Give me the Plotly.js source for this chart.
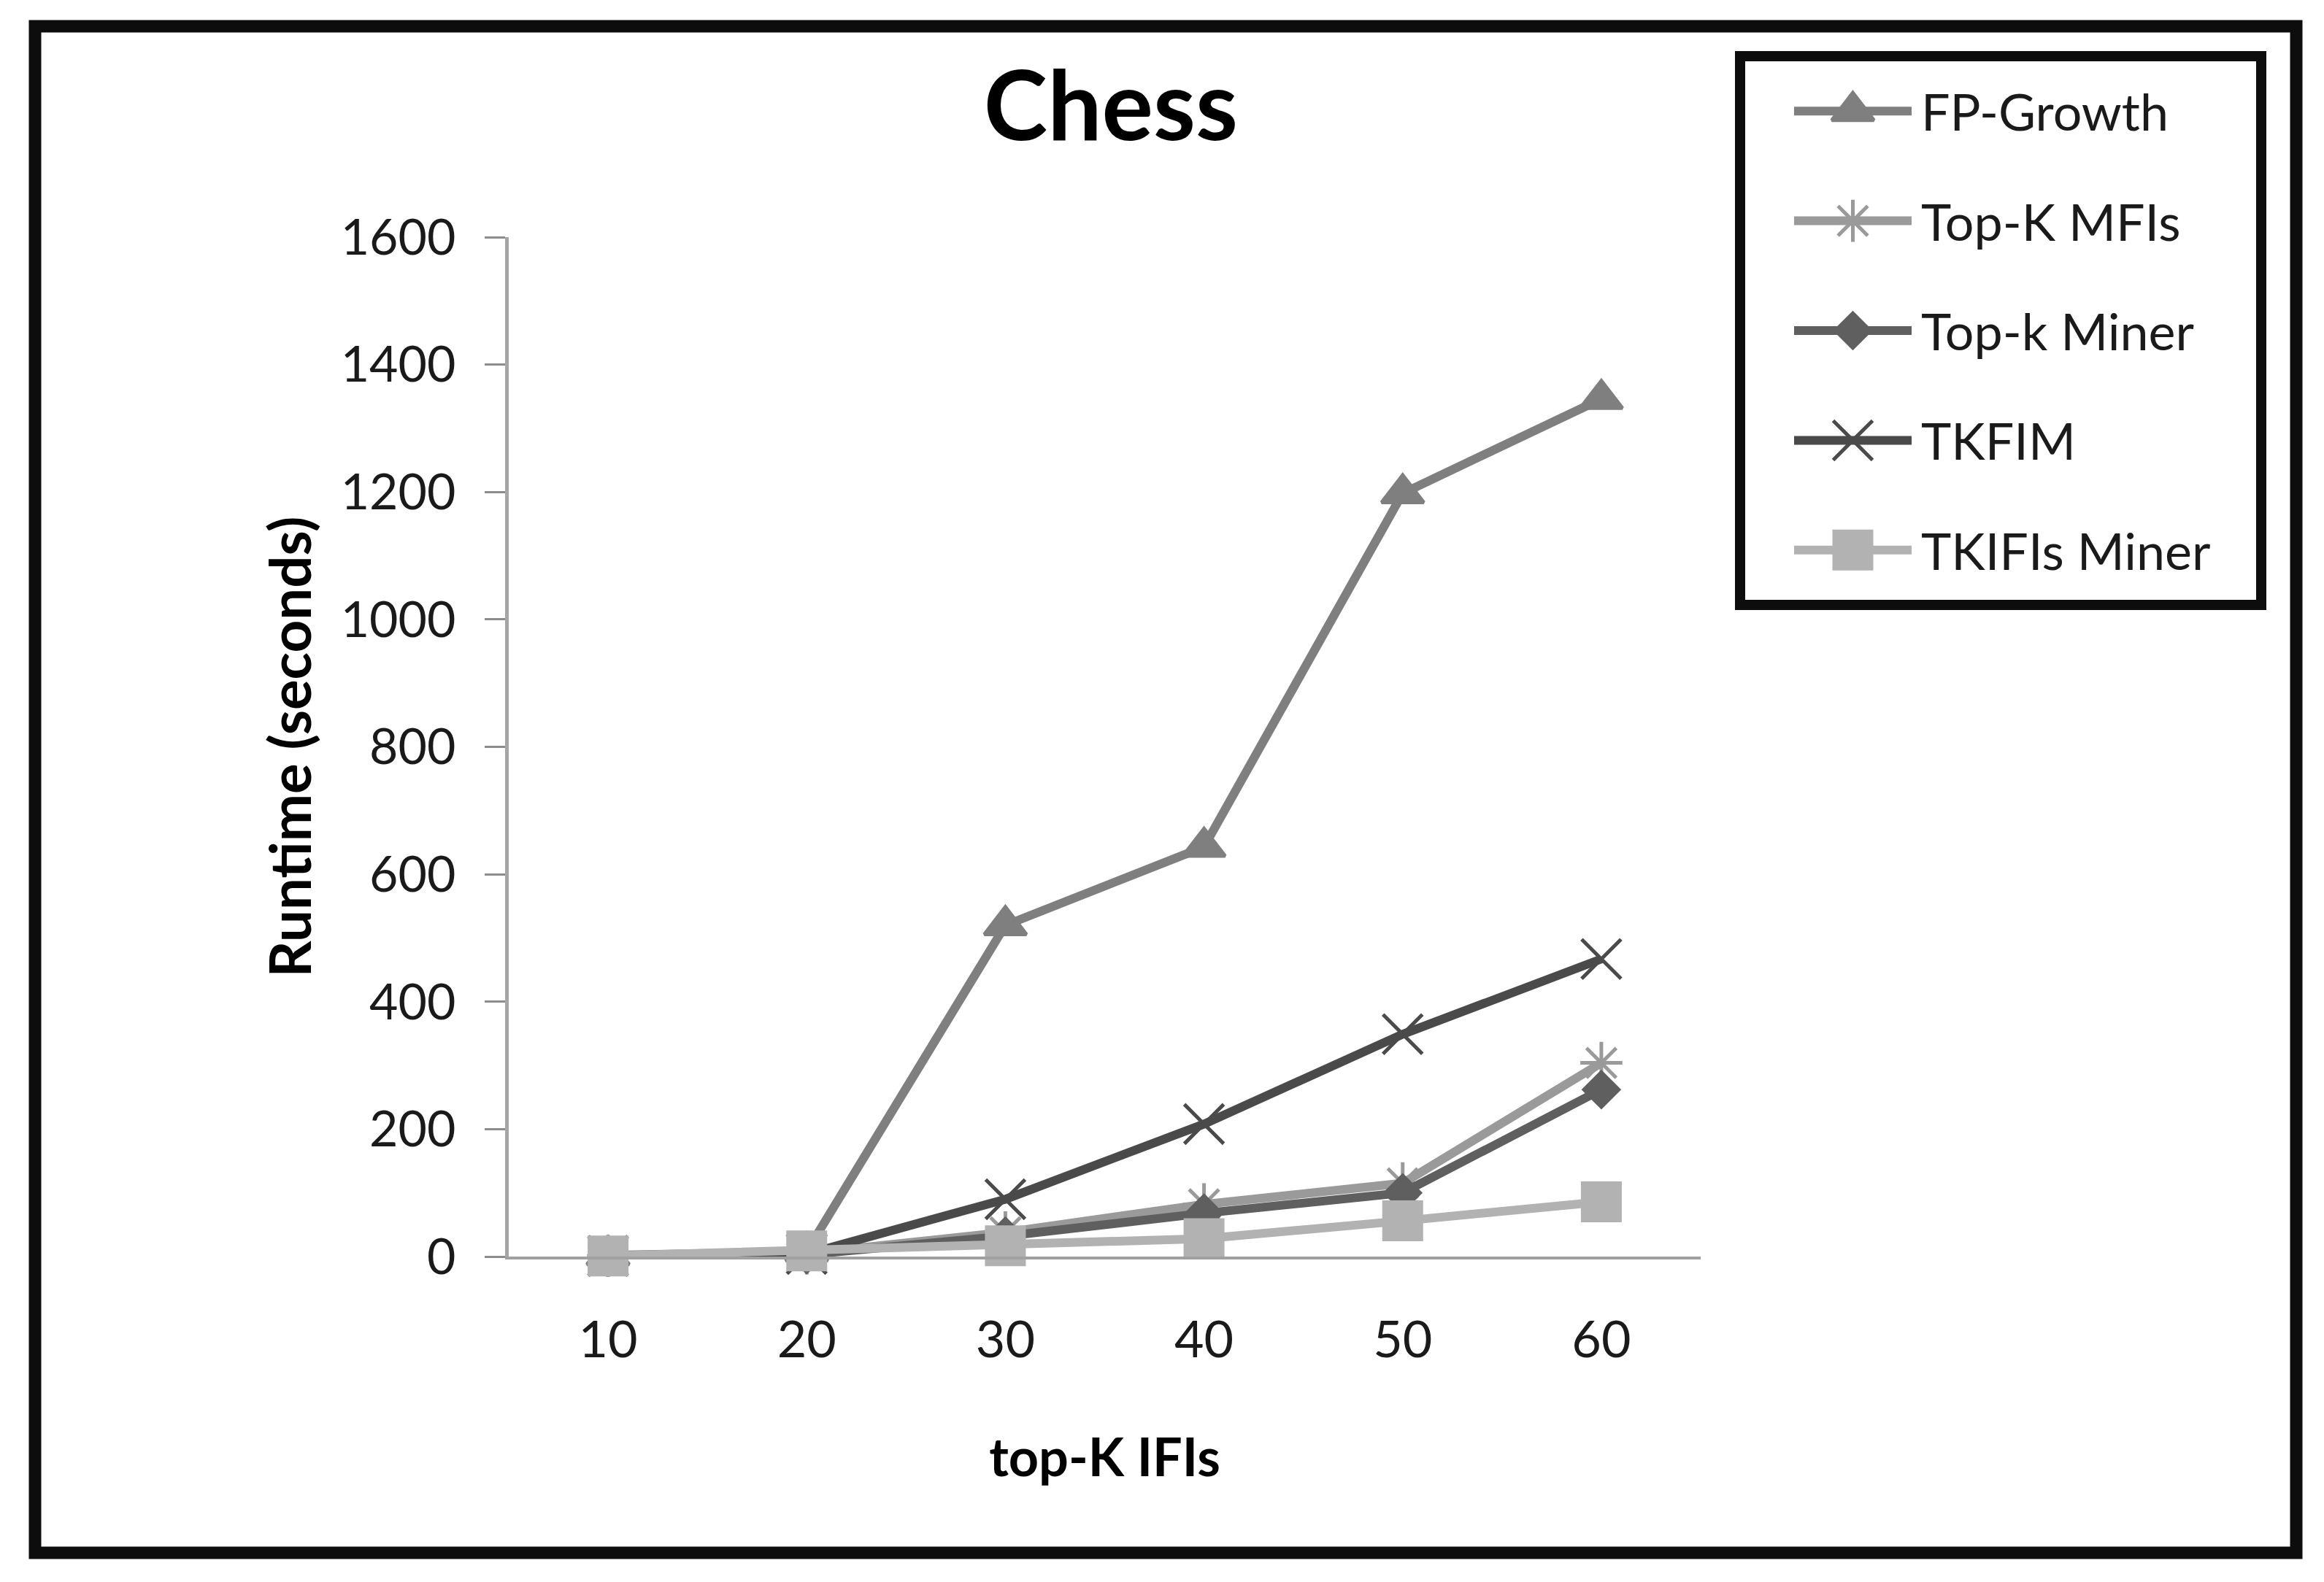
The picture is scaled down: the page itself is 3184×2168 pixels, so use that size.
<!DOCTYPE html>
<html>
<head>
<meta charset="utf-8">
<script src="https://cdn.plot.ly/plotly-3.0.1.min.js"></script>
<style>
  html, body { margin: 0; padding: 0; background: #fff; }
  #plot { width: 3184px; height: 2168px; }
</style>
</head>
<body>
<div id="plot"></div>
<script>
// values (runtime in seconds)
const xCats = ["10", "20", "30", "40", "50", "60"];
const fpGrowth  = [2, 8, 520, 643, 1198, 1346];
const topKMFIs  = [1, 5, 38, 82, 115, 304];
const topKMiner = [1, 3, 32, 68, 100, 262];
const tkfim     = [1, 4, 90, 208, 349, 467];
const tkifis    = [1, 9, 17, 28, 56, 86];

const seriesNames = ["FP-Growth", "Top-K MFIs", "Top-k Miner", "TKFIM", "TKIFIs Miner"];
const yTicks = [0, 200, 400, 600, 800, 1000, 1200, 1400, 1600];

// styling per series, same order as seriesNames
const seriesData = [fpGrowth, topKMFIs, topKMiner, tkfim, tkifis];
const colors  = ["#7f7f7f", "#9a9a9a", "#5f5f5f", "#4a4a4a", "#b2b2b2"];
const symbols = ["triangle-up", "asterisk-open", "diamond", "x-thin-open", "square"];
const sizes   = [50, 48, 42, 54, 56];
const lineW   = [5, 5, 0, 5, 0];

const W = 3184, H = 2168;
const FONT = "Lato, 'Open Sans', sans-serif";
const px = x => x / W;
const py = y => 1 - y / H;

function markerFor(i){
  return {
    symbol: symbols[i],
    size: sizes[i],
    color: colors[i],
    line: {color: colors[i], width: lineW[i]}
  };
}

const traces = seriesNames.map((name, i) => ({
  type: "scatter",
  mode: "lines+markers",
  name: name,
  x: xCats,
  y: seriesData[i],
  line: {color: colors[i], width: 12},
  marker: markerFor(i),
  cliponaxis: false,
  showlegend: false,
  hoverinfo: "x+y+name"
}));

// hand-made legend keys on a small overlay axis pair (row i = series i)
const legendKeys = seriesNames.map((name, i) => {
  const m = markerFor(i);
  m.opacity = [0, 1, 0];
  return {
    type: "scatter",
    mode: "lines+markers",
    x: [0, 0.5, 1],
    y: [i, i, i],
    xaxis: "x2",
    yaxis: "y2",
    line: {color: colors[i], width: 12},
    marker: m,
    cliponaxis: false,
    showlegend: false,
    hoverinfo: "skip"
  };
});

const legendText = seriesNames.map((name, i) => ({
  text: name,
  xref: "paper", yref: "y2",
  x: px(2630), y: i,
  xanchor: "left", yanchor: "middle",
  showarrow: false,
  font: {family: FONT, size: 70, color: "#1a1a1a"}
}));

const layout = {
  width: W,
  height: H,
  margin: {l: 0, r: 0, t: 0, b: 0},
  paper_bgcolor: "#ffffff",
  plot_bgcolor: "#ffffff",
  font: {family: FONT, color: "#1a1a1a"},
  showlegend: false,
  title: {
    text: "<b>Chess</b>",
    x: px(1522), xanchor: "center",
    y: py(146), yanchor: "middle",
    xref: "paper", yref: "paper",
    font: {family: FONT, size: 132, color: "#000"}
  },
  xaxis: {
    domain: [px(697), px(2330)],
    type: "category",
    range: [-0.5, 5.5],
    showgrid: false,
    zeroline: false,
    showline: true,
    linecolor: "#a0a0a0",
    linewidth: 4,
    ticks: "",
    ticklabelstandoff: 50,
    tickfont: {family: FONT, size: 70, color: "#1a1a1a"},
    title: {text: "<b>top-K IFIs</b>", standoff: 100, font: {family: FONT, size: 72, color: "#000"}},
    anchor: "y"
  },
  yaxis: {
    domain: [py(1722), py(325)],
    range: [0, 1600],
    tickvals: yTicks,
    showgrid: false,
    zeroline: false,
    showline: true,
    linecolor: "#a6a6a6",
    linewidth: 5,
    ticks: "outside",
    ticklen: 28,
    tickwidth: 3,
    tickcolor: "#8c8c8c",
    ticklabelstandoff: 26,
    tickfont: {family: FONT, size: 68, color: "#1a1a1a"},
    title: {text: "<b>Runtime (seconds)</b>", standoff: 16, font: {family: FONT, size: 78, color: "#000"}},
    anchor: "x"
  },
  xaxis2: {domain: [px(2458), px(2619)], range: [0, 1], visible: false, anchor: "y2", fixedrange: true},
  // rows 0..4 sit at 152..754 px; pad half a row so the key lines are not clipped
  yaxis2: {domain: [py(829), py(77)], range: [4.5, -0.5], visible: false, anchor: "x2", fixedrange: true},
  annotations: legendText,
  shapes: [
    // outer frame
    {type: "rect", xref: "paper", yref: "paper",
     x0: px(48), x1: px(3146), y0: py(36), y1: py(2128),
     line: {color: "#0d0d0d", width: 17}},
    // legend box
    {type: "rect", xref: "paper", yref: "paper",
     x0: px(2384), x1: px(3098), y0: py(77), y1: py(829),
     line: {color: "#0d0d0d", width: 14}}
  ]
};

Plotly.newPlot("plot", [...traces, ...legendKeys], layout, {staticPlot: true});
</script>
</body>
</html>
